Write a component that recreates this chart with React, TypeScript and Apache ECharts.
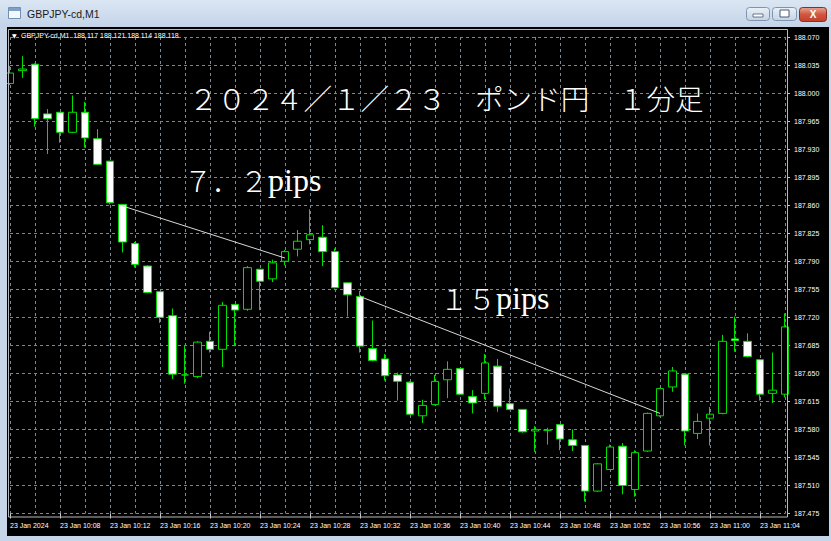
import React, { useEffect, useRef } from "react";
import * as echarts from "echarts";

// ---- data ----
const categories = [
  "10:04", "10:05", "10:06", "10:07", "10:08", "10:09", "10:10", "10:11", "10:12", "10:13",
  "10:14", "10:15", "10:16", "10:17", "10:18", "10:19", "10:20", "10:21", "10:22", "10:23",
  "10:24", "10:25", "10:26", "10:27", "10:28", "10:29", "10:30", "10:31", "10:32", "10:33",
  "10:34", "10:35", "10:36", "10:37", "10:38", "10:39", "10:40", "10:41", "10:42", "10:43",
  "10:44", "10:45", "10:46", "10:47", "10:48", "10:49", "10:50", "10:51", "10:52", "10:53",
  "10:54", "10:55", "10:56", "10:57", "10:58", "10:59", "11:00", "11:01", "11:02", "11:03",
  "11:04", "11:05", "11:06",
];
const opens = [
  188.012, 188.028, 188.036, 187.974, 187.976, 187.951, 187.976, 187.943, 187.915, 187.861,
  187.812, 187.784, 187.752, 187.722, 187.648, 187.646, 187.690, 187.680, 187.736, 187.730,
  187.780, 187.768, 187.790, 187.805, 187.817, 187.820, 187.802, 187.763, 187.746, 187.681,
  187.668, 187.648, 187.639, 187.597, 187.611, 187.642, 187.656, 187.621, 187.625, 187.659,
  187.612, 187.605, 187.578, 187.579, 187.586, 187.567, 187.560, 187.503, 187.530, 187.559,
  187.505, 187.553, 187.597, 187.633, 187.649, 187.575, 187.594, 187.600, 187.693, 187.690,
  187.667, 187.625, 187.624,
];
const closes = [
  188.025, 188.030, 187.968, 187.968, 187.951, 187.976, 187.944, 187.911, 187.863, 187.814,
  187.786, 187.751, 187.720, 187.649, 187.648, 187.689, 187.680, 187.735, 187.729, 187.782,
  187.765, 187.788, 187.802, 187.815, 187.823, 187.802, 187.757, 187.748, 187.684, 187.666,
  187.647, 187.640, 187.599, 187.610, 187.640, 187.655, 187.624, 187.613, 187.663, 187.609,
  187.605, 187.577, 187.580, 187.579, 187.568, 187.560, 187.503, 187.537, 187.558, 187.510,
  187.551, 187.600, 187.631, 187.653, 187.578, 187.590, 187.599, 187.690, 187.691, 187.671,
  187.624, 187.629, 187.708,
];
const lows = [
  188.010, 188.019, 187.958, 187.924, 187.938, 187.950, 187.932, 187.910, 187.861, 187.801,
  187.782, 187.750, 187.713, 187.643, 187.637, 187.644, 187.676, 187.658, 187.684, 187.728,
  187.729, 187.764, 187.785, 187.796, 187.811, 187.784, 187.756, 187.721, 187.676, 187.665,
  187.641, 187.616, 187.598, 187.588, 187.610, 187.619, 187.623, 187.600, 187.618, 187.602,
  187.604, 187.576, 187.552, 187.561, 187.554, 187.553, 187.490, 187.502, 187.530, 187.499,
  187.496, 187.552, 187.596, 187.627, 187.560, 187.568, 187.560, 187.599, 187.677, 187.670,
  187.616, 187.613, 187.620,
];
const highs = [
  188.034, 188.046, 188.037, 187.980, 187.976, 187.997, 187.989, 187.955, 187.915, 187.861,
  187.814, 187.785, 187.752, 187.731, 187.684, 187.690, 187.702, 187.739, 187.736, 187.784,
  187.780, 187.792, 187.804, 187.829, 187.855, 187.835, 187.806, 187.763, 187.753, 187.716,
  187.674, 187.651, 187.640, 187.617, 187.648, 187.665, 187.656, 187.629, 187.674, 187.668,
  187.631, 187.605, 187.584, 187.582, 187.586, 187.580, 187.560, 187.538, 187.561, 187.563,
  187.554, 187.601, 187.632, 187.658, 187.649, 187.600, 187.608, 187.698, 187.721, 187.700,
  187.667, 187.676, 187.725,
];

// price scale (tick labels)
const priceMin = 187.475;
const priceMax = 188.07;
const priceStep = 0.035;

// x tick labels
const firstDateLabel = "23 Jan 2024";
const datePrefix = "23 Jan";

// trend lines: [category index, price]
const trendLine1 = [
  [9, 187.859],
  [22, 187.794],
];
const trendLine2 = [
  [28, 187.746],
  [52, 187.6],
];

const headline = "２０２４／１／２３　ポンド円　１分足";
const note1Num = "７．２";
const note2Num = "１５";
const noteUnit = "pips";
const legendText = "GBPJPY-cd,M1  188.117 188.121 188.114 188.118";
const windowTitle = "GBPJPY-cd,M1";

// ---- helpers ----
const toPts = (p: number) => Math.round((p - priceMin) * 100000) / 100;
const spanPts = toPts(priceMax);
const stepPts = Math.round(priceStep * 1000);

export default function App() {
  const ref = useRef<HTMLDivElement>(null);

  useEffect(() => {
    document.body.style.margin = "0";
    if (!ref.current) return;
    const chart = echarts.init(ref.current, undefined, { renderer: "svg" });

    const candleData = categories.map((_, i) => [
      toPts(opens[i]),
      toPts(closes[i]),
      toPts(lows[i]),
      toPts(highs[i]),
    ]);

    const chrome = "#c6d6e8";
    const jp = "'Noto Sans CJK JP', sans-serif";
    const latinSerif = "'Liberation Serif', serif";

    const noteRich = {
      n: { fontSize: 28, fontFamily: jp, fontWeight: 300, fill: "#ffffff", color: "#ffffff" },
      u: { fontSize: 32, fontFamily: latinSerif, fill: "#ffffff", color: "#ffffff" },
    };

    const option: any = {
      animation: false,
      backgroundColor: "#000000",
      grid: { left: 10, right: 46, top: 37, bottom: 27.5, containLabel: false },
      xAxis: {
        type: "category",
        data: categories,
        boundaryGap: false,
        offset: 3.5,
        axisLine: { show: false },
        axisTick: {
          show: true,
          interval: 3,
          length: 5,
          lineStyle: { color: "#c8c8c8", width: 1 },
        },
        axisLabel: {
          interval: 3,
          align: "left",
          margin: 5,
          color: "#ffffff",
          fontSize: 7,
          fontFamily: "'Liberation Sans', sans-serif",
          formatter: (v: string, idx: number) =>
            idx === 0 ? firstDateLabel : `${datePrefix} ${v}`,
        },
        splitLine: {
          show: true,
          interval: 1,
          lineStyle: { color: "#7c8794", width: 1, type: [3, 3] },
        },
      },
      yAxis: {
        type: "value",
        position: "right",
        min: 0,
        max: spanPts,
        interval: stepPts,
        offset: 2,
        axisLine: { show: false },
        axisTick: {
          show: true,
          length: 3,
          lineStyle: { color: "#c8c8c8", width: 1 },
        },
        axisLabel: {
          margin: 7,
          color: "#ffffff",
          fontSize: 7,
          fontFamily: "'Liberation Sans', sans-serif",
          showMinLabel: true,
          showMaxLabel: true,
          formatter: (v: number) => (priceMin + v / 1000).toFixed(3),
        },
        splitLine: {
          show: true,
          lineStyle: { color: "#7c8794", width: 1, type: [3, 3] },
        },
      },
      series: [
        {
          type: "candlestick",
          data: candleData,
          barWidth: 8,
          clip: false,
          itemStyle: {
            color: "#000000",
            color0: "#ffffff",
            borderColor: "#00e000",
            borderColor0: "#00e000",
            borderColorDoji: "#00e000",
            borderWidth: 1,
          },
          z: 2,
        },
        {
          type: "line",
          data: trendLine1.map(([i, p]) => [i, toPts(p)]),
          symbol: "none",
          silent: true,
          lineStyle: { color: "#d8d8d8", width: 1 },
          z: 3,
        },
        {
          type: "line",
          data: trendLine2.map(([i, p]) => [i, toPts(p)]),
          symbol: "none",
          silent: true,
          lineStyle: { color: "#d8d8d8", width: 1 },
          z: 3,
        },
      ],
      graphic: [
        // plot frame
        {
          type: "rect",
          z: 50,
          silent: true,
          shape: { x: 8.5, y: 29.5, width: 779, height: 487.5 },
          style: { fill: "none", stroke: "#b8b8b8", lineWidth: 1 },
        },
        // window chrome
        {
          type: "rect",
          z: 100,
          silent: true,
          shape: { x: 0, y: 0, width: 831, height: 27 },
          style: {
            fill: new echarts.graphic.LinearGradient(0, 0, 0, 1, [
              { offset: 0, color: "#dbe6f3" },
              { offset: 1, color: "#c3d4e8" },
            ]),
          },
        },
        {
          type: "rect",
          z: 100,
          silent: true,
          shape: { x: 0, y: 27, width: 7, height: 514 },
          style: { fill: chrome },
        },
        {
          type: "rect",
          z: 100,
          silent: true,
          shape: { x: 829, y: 27, width: 2, height: 514 },
          style: { fill: chrome },
        },
        {
          type: "rect",
          z: 100,
          silent: true,
          shape: { x: 0, y: 536, width: 831, height: 5 },
          style: { fill: chrome },
        },
        // icon
        {
          type: "rect",
          z: 101,
          silent: true,
          shape: { x: 8.5, y: 7.5, width: 12, height: 11 },
          style: { fill: "#f4f8fc", stroke: "#6f8fb5", lineWidth: 1 },
        },
        {
          type: "rect",
          z: 102,
          silent: true,
          shape: { x: 9, y: 8, width: 11, height: 3 },
          style: { fill: "#7d9fc8" },
        },
        {
          type: "text",
          z: 101,
          silent: true,
          x: 27,
          y: 14,
          style: {
            text: windowTitle,
            fill: "#1a1a1a",
            fontSize: 10.5,
            fontFamily: "'Liberation Sans', sans-serif",
            verticalAlign: "middle",
          },
        },
        // buttons
        {
          type: "rect",
          z: 101,
          silent: true,
          shape: { x: 746.5, y: 7.5, width: 23, height: 13, r: 3 },
          style: {
            fill: new echarts.graphic.LinearGradient(0, 0, 0, 1, [
              { offset: 0, color: "#eaf0f7" },
              { offset: 1, color: "#c4d3e5" },
            ]),
            stroke: "#7f94b0",
            lineWidth: 1,
          },
        },
        {
          type: "rect",
          z: 102,
          silent: true,
          shape: { x: 753, y: 14, width: 10, height: 3 },
          style: { fill: "#ffffff", stroke: "#485a72", lineWidth: 0.8 },
        },
        {
          type: "rect",
          z: 101,
          silent: true,
          shape: { x: 772.5, y: 7.5, width: 24, height: 13, r: 3 },
          style: {
            fill: new echarts.graphic.LinearGradient(0, 0, 0, 1, [
              { offset: 0, color: "#eaf0f7" },
              { offset: 1, color: "#c4d3e5" },
            ]),
            stroke: "#7f94b0",
            lineWidth: 1,
          },
        },
        {
          type: "rect",
          z: 102,
          silent: true,
          shape: { x: 780, y: 10, width: 9, height: 7 },
          style: { fill: "#ffffff", stroke: "#485a72", lineWidth: 1 },
        },
        {
          type: "rect",
          z: 101,
          silent: true,
          shape: { x: 799.5, y: 7.5, width: 27, height: 14, r: 3 },
          style: {
            fill: new echarts.graphic.LinearGradient(0, 0, 0, 1, [
              { offset: 0, color: "#e8a493" },
              { offset: 0.5, color: "#d0573f" },
              { offset: 1, color: "#c2402a" },
            ]),
            stroke: "#8a2f22",
            lineWidth: 1,
          },
        },
        {
          type: "text",
          z: 102,
          silent: true,
          x: 813,
          y: 14.5,
          style: {
            text: "X",
            fill: "#ffffff",
            fontSize: 10,
            fontWeight: "bold",
            fontFamily: "'Liberation Sans', sans-serif",
            align: "center",
            verticalAlign: "middle",
          },
        },
        // legend line
        {
          type: "text",
          z: 60,
          silent: true,
          x: 12,
          y: 35,
          style: {
            text: "▼",
            fill: "#ffffff",
            fontSize: 6,
            fontFamily: "'DejaVu Sans', sans-serif",
            verticalAlign: "middle",
          },
        },
        {
          type: "text",
          z: 60,
          silent: true,
          x: 21,
          y: 35,
          style: {
            text: legendText,
            fill: "#ffffff",
            fontSize: 7,
            fontFamily: "'Liberation Sans', sans-serif",
            verticalAlign: "middle",
          },
        },
        // annotations
        {
          type: "text",
          z: 60,
          silent: true,
          x: 189,
          y: 97,
          style: {
            text: headline,
            fill: "#ffffff",
            fontSize: 28.6,
            fontWeight: 300,
            fontFamily: jp,
            verticalAlign: "middle",
          },
        },
        {
          type: "text",
          z: 60,
          silent: true,
          x: 184,
          y: 180,
          style: {
            text: `{n|${note1Num}}{u|${noteUnit}}`,
            rich: noteRich,
            fill: "#ffffff",
            verticalAlign: "middle",
          },
        },
        {
          type: "text",
          z: 60,
          silent: true,
          x: 440,
          y: 298,
          style: {
            text: `{n|${note2Num}}{u|${noteUnit}}`,
            rich: noteRich,
            fill: "#ffffff",
            verticalAlign: "middle",
          },
        },
      ],
    };

    chart.setOption(option);
    return () => chart.dispose();
  }, []);

  return (
    <div
      ref={ref}
      style={{ width: 831, height: 541, position: "absolute", left: 0, top: 0 }}
    />
  );
}
